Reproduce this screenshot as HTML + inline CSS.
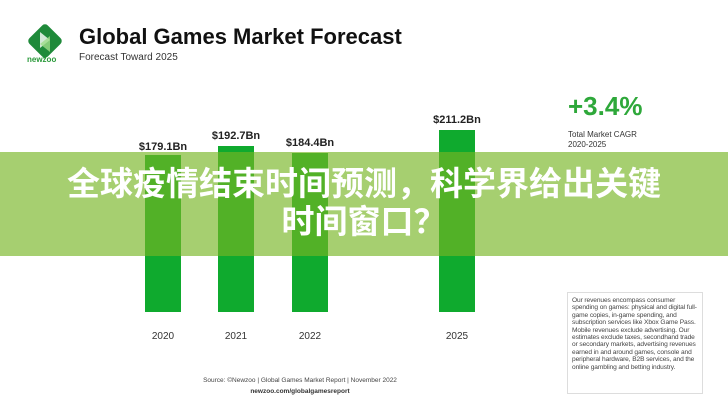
<!DOCTYPE html>
<html><head><meta charset="utf-8"><style>
body{margin:0;width:728px;height:409px;overflow:hidden;background:#fff;font-family:"Liberation Sans","Noto Sans CJK SC",sans-serif;position:relative}
.a{position:absolute}
.bar{position:absolute;background:#0faa2e;width:36px}
.lab{position:absolute;font-size:11px;font-weight:bold;color:#222;width:80px;text-align:center}
.yr{position:absolute;font-size:10px;color:#333;width:60px;text-align:center;top:331px}
</style></head><body>
<svg class="a" style="left:26px;top:22px" width="38" height="38" viewBox="0 0 38 38">
<rect x="6" y="6" width="26" height="26" rx="4" transform="rotate(45 19 19)" fill="#1f8a3a"/>
<path d="M14 10 L24 18 L14 26 Z" fill="#fff" opacity=".8"/><path d="M24 14 L14 22 L24 30 Z" fill="#9fdc8a" opacity=".8"/>
</svg>
<div class="a" style="left:27px;top:55px;font-size:8px;font-weight:bold;color:#2a9a3a">newzoo</div>
<div class="a" style="left:79px;top:24px;font-size:22px;font-weight:bold;color:#111">Global Games Market Forecast</div>
<div class="a" style="left:79px;top:52px;font-size:10px;color:#333">Forecast Toward 2025</div>
<div class="bar" style="left:145px;top:155px;height:157px"></div>
<div class="bar" style="left:218px;top:146px;height:166px"></div>
<div class="bar" style="left:292px;top:153px;height:159px"></div>
<div class="bar" style="left:439px;top:130px;height:182px"></div>
<div class="lab" style="left:123px;top:141px">$179.1Bn</div>
<div class="lab" style="left:196px;top:130px">$192.7Bn</div>
<div class="lab" style="left:270px;top:137px">$184.4Bn</div>
<div class="lab" style="left:417px;top:114px">$211.2Bn</div>
<div class="yr" style="left:133px">2020</div>
<div class="yr" style="left:206px">2021</div>
<div class="yr" style="left:280px">2022</div>
<div class="yr" style="left:427px">2025</div>
<div class="a" style="left:568px;top:91px;font-size:26px;font-weight:bold;color:#2ea83a">+3.4%</div>
<div class="a" style="left:568px;top:130px;font-size:8px;color:#333;line-height:10px">Total Market CAGR<br>2020-2025</div>
<div class="a" style="left:567px;top:292px;width:126px;height:92px;border:1px solid #ddd;padding:4px;font-size:6.6px;line-height:7.4px;color:#444;letter-spacing:-0.1px">Our revenues encompass consumer spending on games: physical and digital full-game copies, in-game spending, and subscription services like Xbox Game Pass. Mobile revenues exclude advertising. Our estimates exclude taxes, secondhand trade or secondary markets, advertising revenues earned in and around games, console and peripheral hardware, B2B services, and the online gambling and betting industry.</div>
<div class="a" style="left:150px;top:377px;width:300px;text-align:center;font-size:6.5px;color:#444">Source: ©Newzoo | Global Games Market Report | November 2022</div>
<div class="a" style="left:150px;top:388px;width:300px;text-align:center;font-size:6.5px;font-weight:bold;color:#333">newzoo.com/globalgamesreport</div>
<div class="a" style="left:0;top:152px;width:728px;height:104px;background:rgba(118,181,35,.65)"></div>
<div class="a" style="left:0;top:165px;width:728px;text-align:center;font-size:33px;font-weight:bold;color:#fff;line-height:38px;font-family:'Liberation Sans','Noto Sans CJK SC',sans-serif">全球疫情结束时间预测，科学界给出关键<br>时间窗口？</div>
</body></html>
